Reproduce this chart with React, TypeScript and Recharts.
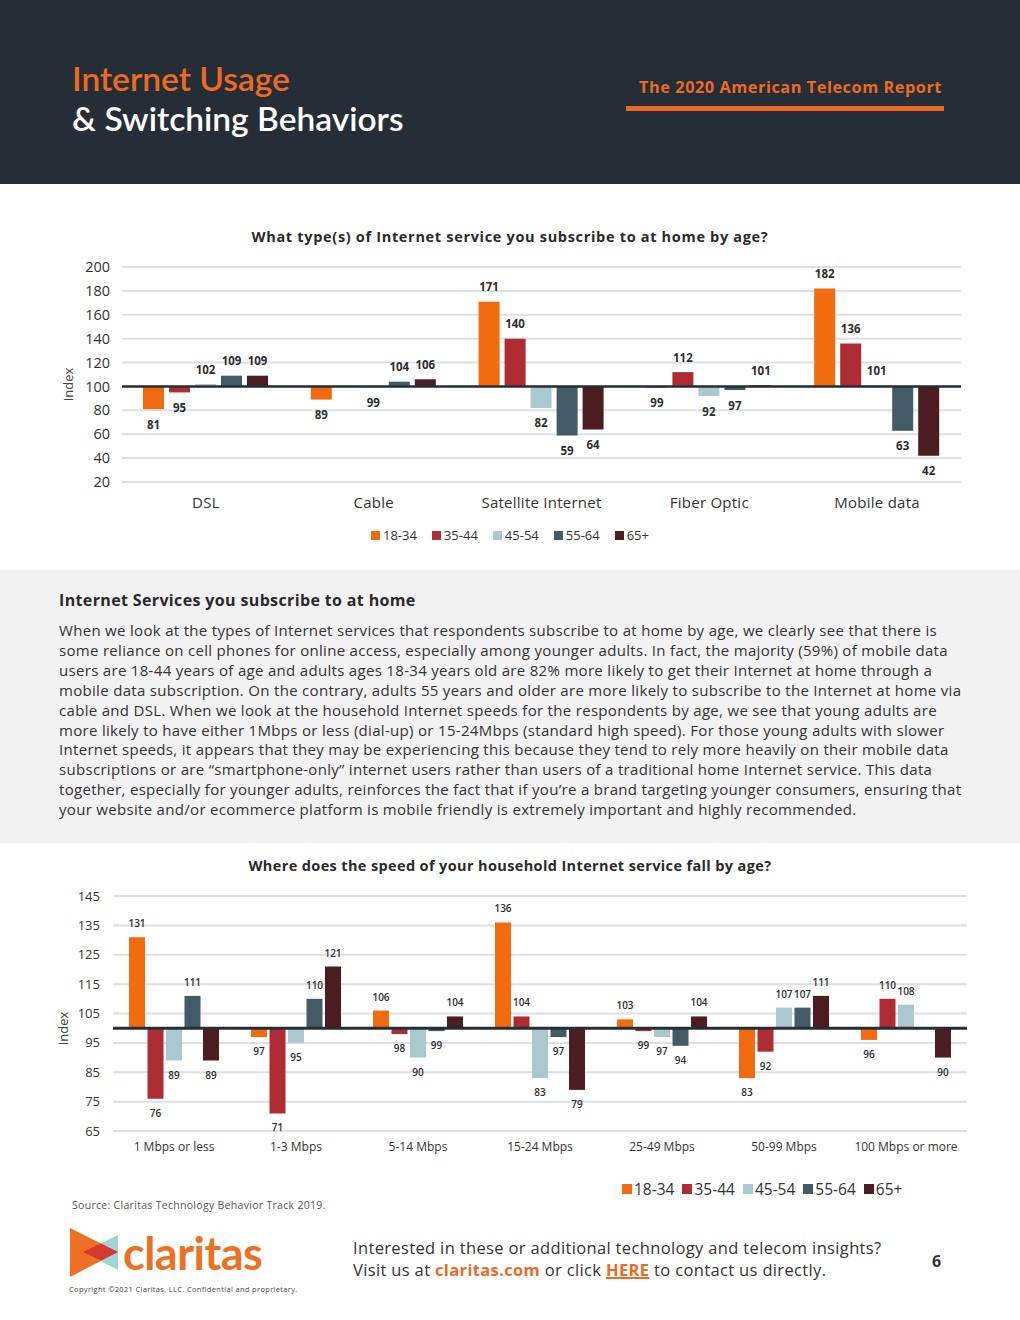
import React from 'react';
import { BarChart, Bar, XAxis, YAxis, CartesianGrid, ReferenceLine, Legend, LabelList } from 'recharts';

const BASE = 100;
const AGE_GROUPS = ['18-34', '35-44', '45-54', '55-64', '65+'];
const COLORS = ['#F26B0F', '#AE2C32', '#A9C9CE', '#425B66', '#4B1D20'];

// Chart 1
const SERVICE_TYPES = ['DSL', 'Cable', 'Satellite Internet', 'Fiber Optic', 'Mobile data'];
const SVC_18_34 = [81, 89, 171, 99, 182];
const SVC_35_44 = [95, 100, 140, 112, 136];
const SVC_45_54 = [102, 99, 82, 92, 101];
const SVC_55_64 = [109, 104, 59, 97, 63];
const SVC_65_PLUS = [109, 106, 64, 101, 42];
const SVC_TICKS = [20, 40, 60, 80, 100, 120, 140, 160, 180, 200];

// Chart 2
const SPEED_TIERS = ['1 Mbps or less', '1-3 Mbps', '5-14 Mbps', '15-24 Mbps', '25-49 Mbps', '50-99 Mbps', '100 Mbps or more'];
const SPD_18_34 = [131, 97, 106, 136, 103, 83, 96];
const SPD_35_44 = [76, 71, 98, 104, 99, 92, 110];
const SPD_45_54 = [89, 95, 90, 83, 97, 107, 108];
const SPD_55_64 = [111, 110, 99, 97, 94, 107, 100];
const SPD_65_PLUS = [89, 121, 104, 79, 104, 111, 90];
const SPD_TICKS = [65, 75, 85, 95, 105, 115, 125, 135, 145];

const PARAGRAPH_LINES = [
  'When we look at the types of Internet services that respondents subscribe to at home by age, we clearly see that there is',
  'some reliance on cell phones for online access, especially among younger adults. In fact, the majority (59%) of mobile data',
  'users are 18-44 years of age and adults ages 18-34 years old are 82% more likely to get their Internet at home through a',
  'mobile data subscription. On the contrary, adults 55 years and older are more likely to subscribe to the Internet at home via',
  'cable and DSL. When we look at the household Internet speeds for the respondents by age, we see that young adults are',
  'more likely to have either 1Mbps or less (dial-up) or 15-24Mbps (standard high speed). For those young adults with slower',
  'Internet speeds, it appears that they may be experiencing this because they tend to rely more heavily on their mobile data',
  'subscriptions or are \u201csmartphone-only\u201d internet users rather than users of a traditional home Internet service. This data',
  'together, especially for younger adults, reinforces the fact that if you\u2019re a brand targeting younger consumers, ensuring that',
  'your website and/or ecommerce platform is mobile friendly is extremely important and highly recommended.',
];

const buildRows = (cats: string[], series: number[][]) =>
  cats.map((name, i) => {
    const row: any = { name };
    series.forEach((s, j) => {
      row['v' + j] = s[i];
    });
    return row;
  });

const svcRows = buildRows(SERVICE_TYPES, [SVC_18_34, SVC_35_44, SVC_45_54, SVC_55_64, SVC_65_PLUS]);
const spdRows = buildRows(SPEED_TIERS, [SPD_18_34, SPD_35_44, SPD_45_54, SPD_55_64, SPD_65_PLUS]);

const FONT = '"Open Sans", Lato, sans-serif';
const HFONT = 'Lato, "Open Sans", sans-serif';
const ORANGE = '#EE6A1F';

const makeLabel = (hundredAbove: boolean, fontSize: number, weight: number, off: number) => (props: any) => {
  const x = Number(props.x);
  const y = Number(props.y);
  const w = Number(props.width);
  const h = Number(props.height) || 0;
  const v = Number(props.value);
  const top = Math.min(y, y + h);
  const bottom = Math.max(y, y + h);
  const above = v > BASE || (hundredAbove && v === BASE);
  const cy = above ? top - off : bottom + off;
  return (
    <text
      x={x + w / 2}
      y={cy}
      textAnchor="middle"
      dominantBaseline="central"
      fontSize={fontSize}
      fontWeight={weight}
      fill="#2E2E2E"
      fontFamily={FONT}
    >
      {v}
    </text>
  );
};

const makeLegend = (iconSize: number, iconGap: number, itemGap: number, fontSize: number) => (props: any) => {
  const payload = props.payload || [];
  return (
    <div style={{ display: 'flex', alignItems: 'center', height: 20, fontFamily: FONT, fontSize, color: '#333', whiteSpace: 'nowrap' }}>
      {payload.map((p: any, i: number) => (
        <span key={i} style={{ display: 'inline-flex', alignItems: 'center', marginRight: itemGap }}>
          <span style={{ display: 'inline-block', width: iconSize, height: iconSize, background: p.color, marginRight: iconGap }} />
          <span>{p.value}</span>
        </span>
      ))}
    </div>
  );
};

function ServiceChart() {
  const label = makeLabel(true, 11.5, 700, 15);
  return (
    <BarChart
      width={1020}
      height={300}
      data={svcRows}
      margin={{ top: 17, right: 59, bottom: 5, left: 62 }}
      barSize={21}
      barGap={5}
    >
      <CartesianGrid vertical={false} stroke="#DCE0E4" strokeWidth={2} />
      <XAxis
        dataKey="name"
        axisLine={false}
        tickLine={false}
        interval={0}
        height={43}
        tickMargin={9}
        tick={{ fontSize: 15, fill: '#333', fontFamily: FONT, style: { letterSpacing: '0.25px' } } as any}
      />
      <YAxis
        type="number"
        domain={[20, 200]}
        ticks={SVC_TICKS}
        width={60}
        axisLine={false}
        tickLine={false}
        tickMargin={6}
        tick={{ fontSize: 14.5, fill: '#333', fontFamily: FONT }}
        label={{ value: 'Index', angle: -90, position: 'center', dx: -24, dy: 10, fontSize: 13, fill: '#444', fontFamily: FONT }}
      />
      <Legend
        verticalAlign="bottom"
        align="left"
        height={20}
        width={340}
        content={makeLegend(9, 3, 15, 13)}
        wrapperStyle={{ left: 371 }}
      />
      {AGE_GROUPS.map((g, j) => (
        <Bar
          key={g}
          name={g}
          dataKey={(d: any) => [BASE, d['v' + j]]}
          fill={COLORS[j]}
          isAnimationActive={false}
        >
          <LabelList dataKey={'v' + j} content={label} />
        </Bar>
      ))}
      <ReferenceLine y={BASE} stroke="#252E37" strokeWidth={2.5} />
    </BarChart>
  );
}

function SpeedChart() {
  const label = makeLabel(false, 10, 600, 14);
  return (
    <BarChart
      width={1020}
      height={324}
      data={spdRows}
      margin={{ top: 16, right: 53, bottom: 5, left: 58 }}
      barSize={16}
      barGap={2.5}
    >
      <CartesianGrid vertical={false} stroke="#DCE0E4" strokeWidth={2} />
      <XAxis
        dataKey="name"
        axisLine={false}
        tickLine={false}
        interval={0}
        height={48}
        tickMargin={5}
        tick={{ fontSize: 12, fill: '#333', fontFamily: FONT }}
      />
      <YAxis
        type="number"
        domain={[65, 145]}
        ticks={SPD_TICKS}
        width={55}
        axisLine={false}
        tickLine={false}
        tickMargin={7}
        tick={{ fontSize: 13, fill: '#333', fontFamily: FONT }}
        label={{ value: 'Index', angle: -90, position: 'center', dx: -22, dy: 15, fontSize: 13, fill: '#444', fontFamily: FONT }}
      />
      <Legend
        verticalAlign="bottom"
        align="left"
        height={20}
        width={340}
        content={makeLegend(10, 2, 8, 15.5)}
        wrapperStyle={{ left: 622 }}
      />
      {AGE_GROUPS.map((g, j) => (
        <Bar
          key={g}
          name={g}
          dataKey={(d: any) => [BASE, d['v' + j]]}
          fill={COLORS[j]}
          isAnimationActive={false}
        >
          <LabelList dataKey={'v' + j} content={label} />
        </Bar>
      ))}
      <ReferenceLine y={BASE} stroke="#252E37" strokeWidth={3} />
    </BarChart>
  );
}

const abs = (s: React.CSSProperties): React.CSSProperties => ({ position: 'absolute', whiteSpace: 'nowrap', ...s });

export default function App() {
  return (
    <div style={{ position: 'absolute', left: 0, top: 0, width: 1020, height: 1320, background: '#fff', overflow: 'hidden', fontFamily: FONT }}>
      {/* Header */}
      <div style={abs({ left: 0, top: 0, width: 1020, height: 184, background: '#252E37' })} />
      <div style={abs({ left: 72, top: 62, fontSize: 33.5, lineHeight: '33.5px', fontWeight: 600, color: ORANGE, fontFamily: HFONT })}>Internet Usage</div>
      <div style={abs({ left: 72, top: 102, fontSize: 33.5, lineHeight: '33.5px', fontWeight: 600, color: '#fff', fontFamily: HFONT })}>&amp; Switching Behaviors</div>
      <div style={abs({ right: 78, top: 79, fontSize: 16.3, lineHeight: '16px', fontWeight: 700, color: ORANGE, letterSpacing: '0.55px' })}>The 2020 American Telecom Report</div>
      <div style={abs({ left: 626, top: 106, width: 318, height: 5, background: ORANGE })} />

      {/* Chart 1 */}
      <div style={abs({ left: 0, top: 230, width: 1020, textAlign: 'center', fontSize: 14.5, lineHeight: '14.5px', fontWeight: 700, color: '#2A2A2A', letterSpacing: '0.68px' })}>
        What type(s) of Internet service you subscribe to at home by age?
      </div>
      <div style={abs({ left: 0, top: 250 })}>
        <ServiceChart />
      </div>

      {/* Text section */}
      <div style={abs({ left: 0, top: 570, width: 1020, height: 273, background: '#F2F2F2' })} />
      <div style={abs({ left: 59, top: 592, fontSize: 16, lineHeight: '16px', fontWeight: 700, color: '#2A2A2A', letterSpacing: '0.36px' })}>
        Internet Services you subscribe to at home
      </div>
      <div style={abs({ left: 59, top: 621, fontSize: 15, lineHeight: '19.9px', color: '#333', letterSpacing: '0.31px' })}>
        {PARAGRAPH_LINES.map((l, i) => (
          <div key={i}>{l}</div>
        ))}
      </div>

      {/* Chart 2 */}
      <div style={abs({ left: 0, top: 859, width: 1020, textAlign: 'center', fontSize: 14.5, lineHeight: '14.5px', fontWeight: 700, color: '#2A2A2A', letterSpacing: '0.37px' })}>
        Where does the speed of your household Internet service fall by age?
      </div>
      <div style={abs({ left: 0, top: 880 })}>
        <SpeedChart />
      </div>

      {/* Footer */}
      <div style={abs({ left: 72, top: 1199, fontSize: 10.5, lineHeight: '12px', color: '#555', letterSpacing: '0.3px' })}>
        Source: Claritas Technology Behavior Track 2019.
      </div>
      <svg style={abs({ left: 60, top: 1220 })} width={220} height={66}>
        <polygon points="58,15 58,50 23,32" fill="#9FD4D8" />
        <polygon points="10,8 10,57 58,32" fill="#EE7023" />
        <polygon points="23,32 40.75,23.4 58,32 40.75,40.6" fill="#D23A30" />
        <text x={63} y={50} fontSize={45} fontWeight={700} fill="#EE7023" fontFamily={HFONT} letterSpacing={-0.5}>
          claritas
        </text>
      </svg>
      <div style={abs({ left: 69, top: 1285, fontSize: 7.5, lineHeight: '9px', color: '#444', letterSpacing: '0.33px' })}>
        Copyright ©2021 Claritas, LLC. Confidential and proprietary.
      </div>
      <div style={abs({ left: 353, top: 1237, fontSize: 16.5, lineHeight: '22px', color: '#333', letterSpacing: '0.35px' })}>
        <div>Interested in these or additional technology and telecom insights?</div>
        <div>
          Visit us at <span style={{ color: ORANGE, fontWeight: 700 }}>claritas.com</span> or click{' '}
          <span style={{ color: ORANGE, fontWeight: 700, textDecoration: 'underline', textDecorationThickness: 2 }}>HERE</span> to contact us directly.
        </div>
      </div>
      <div style={abs({ left: 932, top: 1253, fontSize: 16, lineHeight: '16px', fontWeight: 700, color: '#333' })}>6</div>
    </div>
  );
}
